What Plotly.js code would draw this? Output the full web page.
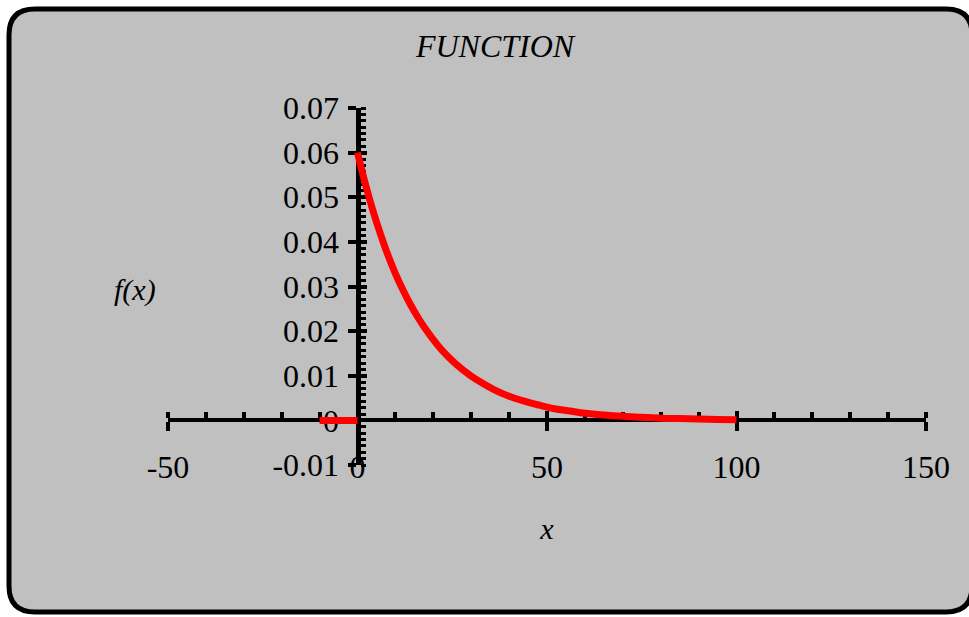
<!DOCTYPE html>
<html>
<head>
<meta charset="utf-8">
<script src="https://cdn.plot.ly/plotly-3.0.1.min.js"></script>
<style>
  html, body { margin: 0; padding: 0; background: #ffffff; }
  #chart { width: 969px; height: 617px; }
</style>
</head>
<body>
<div id="chart"></div>
<script>
// ---- data ----
const leftX = [-10, 0];
const leftY = [0, 0];
const curveX = [0, 2, 4, 6, 8, 10, 12, 14, 16, 18, 20, 22, 24, 26, 28, 30, 33, 36, 40, 44, 48, 52, 56, 60, 65, 70, 75, 80, 85, 90, 95, 100];
const curveY = [0.060, 0.0532, 0.0472, 0.0419, 0.0371, 0.0329, 0.0292, 0.0259, 0.0230, 0.0204, 0.0181, 0.0160, 0.0142, 0.0126, 0.0112, 0.0099, 0.0083, 0.0069, 0.0054, 0.0043, 0.0034, 0.0026, 0.0021, 0.0016, 0.0012, 0.0009, 0.0007, 0.0005, 0.0004, 0.0003, 0.0002, 0.00015];
const xTickVals = [-50, 0, 50, 100, 150];
const xTickText = ['-50', '0', '50', '100', '150'];
const yTickVals = [-0.01, 0, 0.01, 0.02, 0.03, 0.04, 0.05, 0.06, 0.07];
const yTickText = ['-0.01', '0', '0.01', '0.02', '0.03', '0.04', '0.05', '0.06', '0.07'];
const xMajorMarks = [-50, 50, 100, 150];
const titleText = 'FUNCTION';
const xTitle = 'x';
const yTitle = 'f(x)';

// ---- layout geometry ----
const L = 168, R = 926, T = 108, B = 465, W = 969, Hh = 617;
const PW = R - L, PH = B - T;
const fx = p => (p - L) / PW;
const fy = p => (B - p) / PH;
const bx0 = 9, by0 = 9, bx1 = 972, by1 = 612, rad = 26;
const boxPath =
  `M ${fx(bx0 + rad)},${fy(by0)} L ${fx(bx1 - rad)},${fy(by0)} Q ${fx(bx1)},${fy(by0)} ${fx(bx1)},${fy(by0 + rad)} ` +
  `L ${fx(bx1)},${fy(by1 - rad)} Q ${fx(bx1)},${fy(by1)} ${fx(bx1 - rad)},${fy(by1)} ` +
  `L ${fx(bx0 + rad)},${fy(by1)} Q ${fx(bx0)},${fy(by1)} ${fx(bx0)},${fy(by1 - rad)} ` +
  `L ${fx(bx0)},${fy(by0 + rad)} Q ${fx(bx0)},${fy(by0)} ${fx(bx0 + rad)},${fy(by0)} Z`;

const serif = 'Liberation Serif';
const tickSize = 32;
const xr = [-50, 150], yr = [-0.01, 0.07];
const xPos = 0.125; // y = 0 within [-0.01, 0.07]
const yPos = 0.25;  // x = 0 within [-50, 150]

const red = { color: '#ff0000', width: 7 };
const traces = [
  // empty traces so every axis pair is built
  { x: [], y: [], type: 'scatter', mode: 'lines', xaxis: 'x', yaxis: 'y', hoverinfo: 'skip' },
  { x: [], y: [], type: 'scatter', mode: 'lines', xaxis: 'x2', yaxis: 'y2', hoverinfo: 'skip' },
  { x: leftX, y: leftY, type: 'scatter', mode: 'lines', line: red, xaxis: 'x3', yaxis: 'y3', hoverinfo: 'skip' },
  { x: curveX, y: curveY, type: 'scatter', mode: 'lines', line: Object.assign({ shape: 'spline' }, red), xaxis: 'x3', yaxis: 'y3', hoverinfo: 'skip' }
];

const hidden = { showgrid: false, zeroline: false, showline: false };
const layout = {
  width: W, height: Hh,
  margin: { l: L, r: W - R, t: T, b: Hh - B, pad: 0 },
  paper_bgcolor: '#ffffff',
  plot_bgcolor: 'rgba(0,0,0,0)',
  showlegend: false,
  font: { family: serif, size: 30, color: '#000' },
  title: {
    text: '<i>' + titleText + '</i>',
    font: { family: serif, size: 32, color: '#000' },
    x: 495 / W, xanchor: 'center', xref: 'container',
    y: 1 - 46 / Hh, yanchor: 'middle', yref: 'container'
  },
  xaxis: Object.assign({}, hidden, {
    range: xr, anchor: 'y', ticks: '', tickvals: xTickVals, ticktext: xTickText,
    tickfont: { family: serif, size: tickSize, color: '#000' },
    ticklabelstandoff: -20,
    title: { text: '<i>' + xTitle + '</i>', font: { family: serif, size: 30 }, standoff: 33 },
    automargin: false
  }),
  xaxis2: Object.assign({}, hidden, {
    range: xr, overlaying: 'x', anchor: 'free', position: xPos, side: 'bottom', layer: 'below traces',
    showline: true, linecolor: '#000', linewidth: 4,
    tickvals: xMajorMarks, ticks: 'outside', ticklen: 9, tickwidth: 4, tickcolor: '#000',
    showticklabels: false,
    minor: { dtick: 10, tick0: 0, ticks: 'inside', ticklen: 6, tickwidth: 4, tickcolor: '#000', showgrid: false }
  }),
  xaxis3: Object.assign({}, hidden, {
    range: xr, overlaying: 'x', anchor: 'free', position: xPos, side: 'bottom', layer: 'below traces',
    tickvals: xMajorMarks, ticks: 'inside', ticklen: 9, tickwidth: 4, tickcolor: '#000',
    showticklabels: false
  }),
  yaxis: Object.assign({}, hidden, {
    range: yr, anchor: 'x', ticks: '', showticklabels: false, automargin: false
  }),
  yaxis2: Object.assign({}, hidden, {
    range: yr, overlaying: 'y', anchor: 'free', position: yPos, side: 'left', layer: 'below traces',
    showline: true, linecolor: '#000', linewidth: 5,
    tickvals: yTickVals, ticktext: yTickText, ticks: 'outside', ticklen: 8, tickwidth: 4, tickcolor: '#000',
    tickfont: { family: serif, size: tickSize, color: '#000' },
    ticklabelstandoff: 2,
    minor: { dtick: 0.01 / 7, tick0: 0, ticks: 'inside', ticklen: 5, tickwidth: 3, tickcolor: '#000', showgrid: false }
  }),
  yaxis3: Object.assign({}, hidden, {
    range: yr, overlaying: 'y', anchor: 'free', position: yPos, side: 'left', layer: 'below traces',
    tickvals: yTickVals, ticks: 'inside', ticklen: 8, tickwidth: 4, tickcolor: '#000',
    showticklabels: false
  }),
  annotations: [
    { text: '<i>' + yTitle + '</i>', xref: 'paper', yref: 'paper', x: fx(135), y: fy(290),
      xanchor: 'center', yanchor: 'middle', showarrow: false, font: { family: serif, size: 30, color: '#000' } }
  ],
  shapes: [
    { type: 'path', xref: 'paper', yref: 'paper', path: boxPath, fillcolor: '#c0c0c0',
      line: { color: '#000', width: 5 }, layer: 'below' }
  ]
};

Plotly.newPlot('chart', traces, layout, { staticPlot: true, displayModeBar: false });
</script>
</body>
</html>
